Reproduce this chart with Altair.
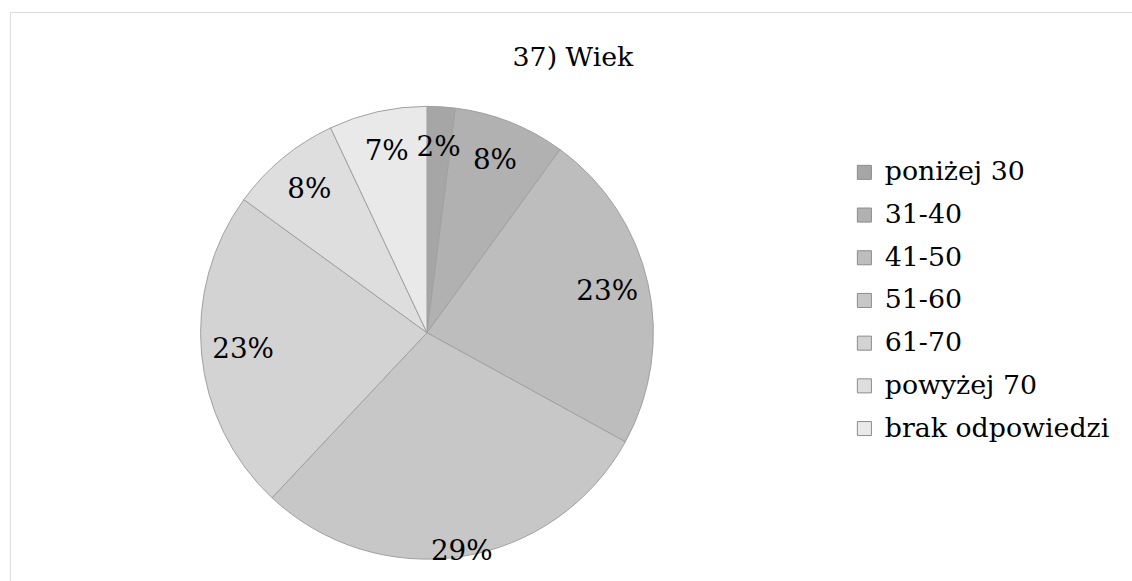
import altair as alt
import pandas as pd

categories = ["poniżej 30", "31-40", "41-50", "51-60", "61-70", "powyżej 70", "brak odpowiedzi"]
values = [2, 8, 23, 29, 23, 8, 7]
labels = ["2%", "8%", "23%", "29%", "23%", "8%", "7%"]
colors = ["#a6a6a6", "#b1b1b1", "#bdbdbd", "#c7c7c7", "#d3d3d3", "#dedede", "#e9e9e9"]

df = pd.DataFrame({"kat": categories, "val": values, "lab": labels, "ord": list(range(len(categories)))})

FONT = "DejaVu Serif"
CX, CY = 420, 323

color = alt.Color(
    "kat:N",
    scale=alt.Scale(domain=categories, range=colors),
    legend=alt.Legend(
        title=None,
        orient="none",
        legendX=847,
        legendY=148,
        labelFont=FONT,
        labelFontSize=27,
        labelColor="#000000",
        symbolType="square",
        symbolSize=200,
        symbolStrokeColor="#8c8c8c",
        symbolStrokeWidth=1,
        rowPadding=15,
        labelOffset=7,
        labelLimit=400,
    ),
)

pie = alt.Chart(df).mark_arc(outerRadius=228, stroke="#a0a0a0", strokeWidth=1).encode(
    theta=alt.Theta("val:Q", stack=True),
    order=alt.Order("ord:Q"),
    color=color,
    x=alt.value(CX),
    y=alt.value(CY),
)

lab_base = alt.Chart(df).transform_window(
    cum="sum(val)", sort=[alt.SortField("ord")], frame=[None, 0]
).transform_calculate(
    mid="datum.cum - datum.val / 2"
).encode(
    theta=alt.Theta("mid:Q", stack=None, scale=alt.Scale(domain=[0, 100], range=[0, 6.283185307])),
    text="lab:N",
    x=alt.value(CX),
    y=alt.value(CY),
)

text_small = lab_base.transform_filter("datum.val <= 25").mark_text(
    font=FONT, fontSize=28, color="#000000", radius=186
)
text_big = lab_base.transform_filter("datum.val > 25").mark_text(
    font=FONT, fontSize=28, color="#000000", radius=224
)

title = alt.Chart(pd.DataFrame({"t": ["37) Wiek"]})).mark_text(
    font=FONT, fontSize=27, color="#000000", baseline="alphabetic", align="center"
).encode(text="t:N", x=alt.value(567), y=alt.value(54))

chart = alt.layer(pie, text_small, text_big, title).resolve_scale(
    theta="independent"
).properties(
    width=1130,
    height=580,
    autosize=alt.AutoSizeParams(type="none"),
    padding={"left": 10, "top": 10, "right": 0, "bottom": 0},
).configure_view(stroke="#d9d9d9", strokeWidth=2).configure(background="#ffffff")

chart.save("out.html", embed_options={"renderer": "svg", "actions": False})
